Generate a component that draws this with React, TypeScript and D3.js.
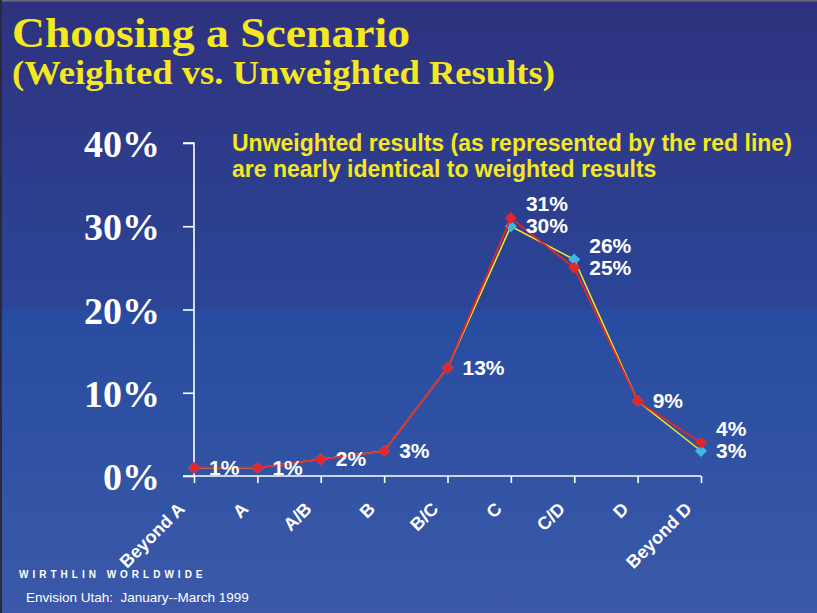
import React, { useEffect, useRef } from 'react';
import * as d3 from 'd3';

const categories = ['Beyond A', 'A', 'A/B', 'B', 'B/C', 'C', 'C/D', 'D', 'Beyond D'];
// red line (unweighted) and yellow line with cyan markers (weighted)
const unweighted = [1, 1, 2, 3, 13, 31, 25, 9, 4];
const weighted = [1, 1, 2, 3, 13, 30, 26, 9, 3];
const yTicks = [0, 10, 20, 30, 40];

const W = 817;
const H = 613;

export default function App() {
  const svgRef = useRef<SVGSVGElement>(null);

  useEffect(() => {
    document.body.style.margin = '0';
    if (!svgRef.current) return;
    const svg = d3.select(svgRef.current);
    svg.selectAll('*').remove();

    const defs = svg.append('defs');
    const grad = defs.append('linearGradient')
      .attr('id', 'bg')
      .attr('x1', 0).attr('y1', 0).attr('x2', 0).attr('y2', 1);
    [
      ['0%', '#2f327e'],
      ['50%', '#2b4597'],
      ['51%', '#284ca0'],
      ['100%', '#3b59a8'],
    ].forEach(([o, c]) => grad.append('stop').attr('offset', o).attr('stop-color', c));

    svg.append('rect').attr('width', W).attr('height', H).attr('fill', 'url(#bg)');
    // thin frame at top/left
    svg.append('rect').attr('x', 0).attr('y', 0).attr('width', W).attr('height', 1.5).attr('fill', '#6b6b78');
    svg.append('rect').attr('x', 0).attr('y', 0).attr('width', 2).attr('height', H).attr('fill', '#2a2a3a');

    // titles
    svg.append('text')
      .attr('x', 12).attr('y', 47)
      .attr('font-family', '"Liberation Serif", "Times New Roman", serif')
      .attr('font-weight', 'bold').attr('font-size', 42)
      .attr('textLength', 398).attr('lengthAdjust', 'spacingAndGlyphs')
      .attr('fill', '#f6e81f')
      .text('Choosing a Scenario');
    svg.append('text')
      .attr('x', 12).attr('y', 84)
      .attr('font-family', '"Liberation Serif", "Times New Roman", serif')
      .attr('font-weight', 'bold').attr('font-size', 33)
      .attr('textLength', 543).attr('lengthAdjust', 'spacingAndGlyphs')
      .attr('fill', '#f6e81f')
      .text('(Weighted vs. Unweighted Results)');

    const x = d3.scalePoint<string>().domain(categories).range([194, 701]);
    const y = d3.scaleLinear().domain([0, 40]).range([476, 143]);

    // y axis
    const yAxis = svg.append('g')
      .attr('transform', 'translate(194,0)')
      .call(d3.axisLeft(y).tickValues(yTicks).tickSize(11).tickFormat(() => ''));
    yAxis.selectAll('path, line').attr('stroke', '#fff').attr('stroke-width', 1.6);
    yAxis.select('.domain').attr('d', `M-11,${y(40)}H0V${y(0)}`);

    svg.append('g').selectAll('text')
      .data(yTicks)
      .join('text')
      .attr('x', 160)
      .attr('y', d => y(d) + 14)
      .attr('text-anchor', 'end')
      .attr('font-family', '"Liberation Serif", "Times New Roman", serif')
      .attr('font-weight', 'bold').attr('font-size', 38)
      .attr('fill', '#fff')
      .text(d => `${d}%`);

    // x axis
    const xAxis = svg.append('g')
      .attr('transform', `translate(0,${y(0)})`)
      .call(d3.axisBottom(x).tickSize(7).tickSizeOuter(0).tickFormat(() => ''));
    xAxis.selectAll('path, line').attr('stroke', '#fff').attr('stroke-width', 1.6);
    xAxis.select('.domain').attr('d', `M183,0H${x('Beyond D')}`);

    svg.append('g').selectAll('text')
      .data(categories)
      .join('text')
      .attr('transform', d => `translate(${(x(d) as number) - 8},510) rotate(-45)`)
      .attr('text-anchor', 'end')
      .attr('font-family', 'Arial, "Liberation Sans", sans-serif')
      .attr('font-weight', 'bold').attr('font-size', 18)
      .attr('fill', '#fff')
      .text(d => d);

    // annotation
    const note = svg.append('text')
      .attr('font-family', 'Arial, "Liberation Sans", sans-serif')
      .attr('font-weight', 'bold').attr('font-size', 23)
      .attr('fill', '#f6e81f');
    note.append('tspan').attr('x', 232).attr('y', 151)
      .text('Unweighted results (as represented by the red line)');
    note.append('tspan').attr('x', 232).attr('y', 177)
      .text('are nearly identical to weighted results');

    const line = d3.line<number>()
      .x((_, i) => x(categories[i]) as number)
      .y(d => y(d));
    const diamond = d3.symbol().type(d3.symbolSquare).size(72);

    // weighted: yellow line, cyan markers
    svg.append('path')
      .datum(weighted)
      .attr('d', line)
      .attr('fill', 'none')
      .attr('stroke', '#f2ea24')
      .attr('stroke-width', 1.5);
    svg.append('g').selectAll('path')
      .data(weighted)
      .join('path')
      .attr('d', diamond)
      .attr('transform', (d, i) => `translate(${x(categories[i])},${y(d)}) rotate(45)`)
      .attr('fill', '#3bb8e8');

    // unweighted: red line and markers
    svg.append('path')
      .datum(unweighted)
      .attr('d', line)
      .attr('fill', 'none')
      .attr('stroke', '#e3262b')
      .attr('stroke-width', 1.8);
    svg.append('g').selectAll('path')
      .data(unweighted)
      .join('path')
      .attr('d', diamond)
      .attr('transform', (d, i) => `translate(${x(categories[i])},${y(d)}) rotate(45)`)
      .attr('fill', '#e3262b');

    // value labels; when the two series differ the larger one's label sits higher
    const labels: { v: number; i: number; up: boolean }[] = [];
    categories.forEach((_, i) => {
      const a = unweighted[i];
      const b = weighted[i];
      if (a === b) {
        labels.push({ v: a, i, up: false });
      } else {
        labels.push({ v: Math.max(a, b), i, up: true });
        labels.push({ v: Math.min(a, b), i, up: false });
      }
    });

    svg.append('g').selectAll('text')
      .data(labels)
      .join('text')
      .attr('x', d => (x(categories[d.i]) as number) + 15)
      .attr('y', d => y(d.v) + 7 - (d.up ? 14 : 0))
      .attr('font-family', 'Arial, "Liberation Sans", sans-serif')
      .attr('font-weight', 'bold').attr('font-size', 21)
      .attr('fill', '#fff')
      .text(d => `${d.v}%`);

    // footer
    svg.append('text')
      .attr('x', 19).attr('y', 578)
      .attr('font-family', 'Arial, "Liberation Sans", sans-serif')
      .attr('font-weight', 'bold').attr('font-size', 10)
      .attr('letter-spacing', 4)
      .attr('fill', '#fff')
      .text('WIRTHLIN WORLDWIDE');
    svg.append('text')
      .attr('x', 26).attr('y', 602)
      .attr('font-family', 'Arial, "Liberation Sans", sans-serif')
      .attr('font-size', 13.5)
      .attr('fill', '#fff')
      .style('white-space', 'pre')
      .text('Envision Utah:  January--March 1999');
  }, []);

  return (
    <svg ref={svgRef} width={W} height={H} style={{ display: 'block' }}></svg>
  );
}
